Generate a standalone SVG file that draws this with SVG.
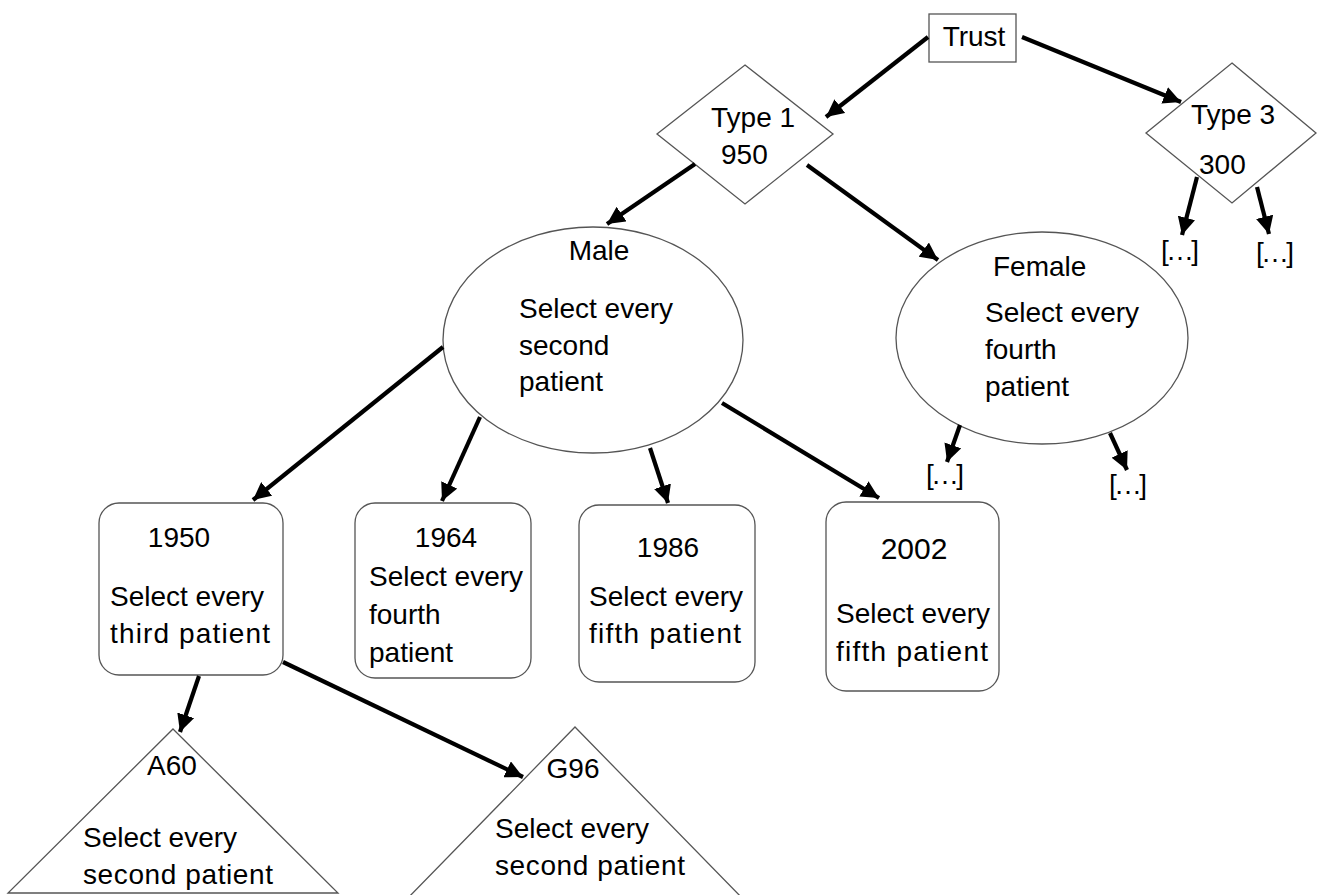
<svg xmlns="http://www.w3.org/2000/svg" width="1317" height="895" viewBox="0 0 1317 895">
<style>
.shape{fill:#fff;stroke:#555;stroke-width:1.3}
.t{font-family:"Liberation Sans",Arial,sans-serif;font-size:28px;fill:#000}
.c{text-anchor:middle}
.conn line{stroke:#000;stroke-width:4.2}
</style>
<defs>
<marker id="ah" viewBox="0 0 10 10" refX="10" refY="5" markerWidth="4.2" markerHeight="4.2" orient="auto">
<path d="M0,0 L10,5 L0,10 z" fill="#000"/>
</marker>
</defs>
<rect width="1317" height="895" fill="#fff"/>
<g id="trust">
<rect class="shape" x="929" y="14" width="87" height="48"/>
<text class="t c" x="974" y="46">Trust</text>
</g>
<g id="type1">
<polygon class="shape" points="745,65 833,134 745,204 657,134"/>
<text class="t" x="711" y="127">Type 1</text>
<text class="t" x="721" y="164">950</text>
</g>
<g id="type3">
<polygon class="shape" points="1232,63 1316,133 1232,203 1146,133"/>
<text class="t" x="1191" y="124">Type 3</text>
<text class="t" x="1199" y="174">300</text>
</g>
<g id="type3-more-1"><text class="t" x="1161" y="260" textLength="38">[…]</text></g>
<g id="type3-more-2"><text class="t" x="1256" y="262" textLength="38">[…]</text></g>
<g id="male">
<ellipse class="shape" cx="593" cy="340" rx="150" ry="113"/>
<text class="t c" x="599" y="260">Male</text>
<text class="t" x="519" y="318">Select every</text>
<text class="t" x="519" y="355">second</text>
<text class="t" x="519" y="391">patient</text>
</g>
<g id="female">
<ellipse class="shape" cx="1042" cy="338" rx="146" ry="106"/>
<text class="t" x="993" y="276">Female</text>
<text class="t" x="985" y="322">Select every</text>
<text class="t" x="985" y="359">fourth</text>
<text class="t" x="985" y="396">patient</text>
</g>
<g id="female-more-1"><text class="t" x="926" y="484" textLength="38">[…]</text></g>
<g id="female-more-2"><text class="t" x="1109" y="494" textLength="38">[…]</text></g>
<g id="y1950">
<rect class="shape" x="99" y="503" width="184" height="172" rx="20"/>
<text class="t c" x="179" y="547">1950</text>
<text class="t" x="110" y="606">Select every</text>
<text class="t" x="110" y="643" textLength="160" lengthAdjust="spacing">third patient</text>
</g>
<g id="y1964">
<rect class="shape" x="355" y="503" width="176" height="175" rx="20"/>
<text class="t c" x="446" y="547">1964</text>
<text class="t" x="369" y="586">Select every</text>
<text class="t" x="369" y="624">fourth</text>
<text class="t" x="369" y="662">patient</text>
</g>
<g id="y1986">
<rect class="shape" x="579" y="505" width="176" height="177" rx="20"/>
<text class="t c" x="668" y="557">1986</text>
<text class="t" x="589" y="606">Select every</text>
<text class="t" x="589" y="643" textLength="152" lengthAdjust="spacing">fifth patient</text>
</g>
<g id="y2002">
<rect class="shape" x="826" y="502" width="173" height="189" rx="20"/>
<text class="t c" x="914" y="559" style="font-size:30px">2002</text>
<text class="t" x="836" y="623">Select every</text>
<text class="t" x="836" y="661" textLength="152" lengthAdjust="spacing">fifth patient</text>
</g>
<g id="a60">
<polygon class="shape" points="173,729 338,893 8,893"/>
<text class="t c" x="172" y="775">A60</text>
<text class="t" x="83" y="847">Select every</text>
<text class="t" x="83" y="884" textLength="190" lengthAdjust="spacing">second patient</text>
</g>
<g id="g96">
<polygon class="shape" points="575,727 745,901 405,901"/>
<text class="t c" x="573" y="778">G96</text>
<text class="t" x="495" y="838">Select every</text>
<text class="t" x="495" y="875" textLength="190" lengthAdjust="spacing">second patient</text>
</g>
<g id="connectors" class="conn">
<line x1="928" y1="37" x2="826" y2="117" marker-end="url(#ah)"/>
<line x1="1022" y1="37" x2="1181" y2="102" marker-end="url(#ah)"/>
<line x1="1197" y1="177" x2="1182" y2="235" marker-end="url(#ah)"/>
<line x1="1257" y1="187" x2="1269" y2="234" marker-end="url(#ah)"/>
<line x1="695" y1="164" x2="607" y2="224" marker-end="url(#ah)"/>
<line x1="807" y1="165" x2="938" y2="260" marker-end="url(#ah)"/>
<line x1="960" y1="425" x2="947" y2="462" marker-end="url(#ah)"/>
<line x1="1110" y1="433" x2="1127" y2="470" marker-end="url(#ah)"/>
<line x1="443" y1="347" x2="253" y2="500" marker-end="url(#ah)"/>
<line x1="480" y1="417" x2="442" y2="501" marker-end="url(#ah)"/>
<line x1="650" y1="448" x2="668" y2="503" marker-end="url(#ah)"/>
<line x1="722" y1="403" x2="879" y2="498" marker-end="url(#ah)"/>
<line x1="199" y1="676" x2="180" y2="732" marker-end="url(#ah)"/>
<line x1="283" y1="662" x2="523" y2="777" marker-end="url(#ah)"/>
</g>
</svg>
